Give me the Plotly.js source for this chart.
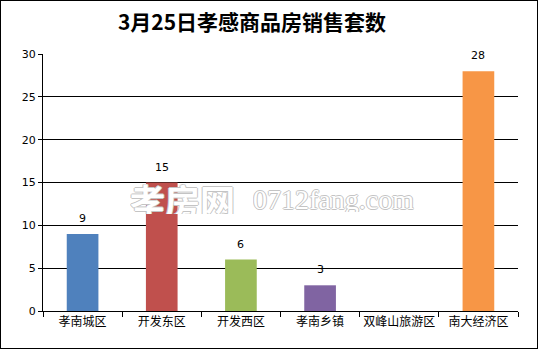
<!DOCTYPE html>
<html><head><meta charset="utf-8">
<script src="https://cdn.plot.ly/plotly-3.0.1.min.js"></script>
<style>
html,body{margin:0;padding:0;background:#fff;}
#wrap{width:538px;height:349px;border:1px solid #000;box-sizing:border-box;position:relative;}
#chart{position:absolute;left:0;top:0;width:536px;height:347px;}
</style></head>
<body><div id="wrap"><div id="chart"></div></div>
<script>
const categories = ['孝南城区','开发东区','开发西区','孝南乡镇','双峰山旅游区','南大经济区'];
const values = [9, 15, 6, 3, null, 28];
const barColors = ['#4F81BD','#C0504D','#9BBB59','#8064A2','#4BACC6','#F79646'];
const yTicks = [0,5,10,15,20,25,30];
const titleText = '3月25日孝感商品房销售套数';

const trace = {
  type:'bar', x:categories, y:values,
  marker:{color:barColors},
  hoverinfo:'none'
};
const outline = '1px 0 0 #c4c4c4, -1px 0 0 #c4c4c4, 0 1px 0 #c4c4c4, 0 -1px 0 #c4c4c4';
const labelAnns = [];
categories.forEach((c,i) => {
  if (values[i] != null) labelAnns.push({x:c, y:values[i], xref:'x', yref:'y', text:String(values[i]),
    showarrow:false, yanchor:'bottom', yshift:7,
    font:{family:'DejaVu Sans, Arial', size:11, color:'#000'}});
});
const layout = {
  width:536, height:347,
  margin:{l:42, r:19, t:53, b:37},
  paper_bgcolor:'#fff', plot_bgcolor:'#fff',
  bargap:0.6, showlegend:false,
  xaxis:{type:'category', showline:true, linecolor:'#000', linewidth:1,
    ticks:'outside', tickson:'boundaries', ticklen:5, tickcolor:'#000', tickangle:0,
    tickfont:{family:'Noto Sans CJK SC', size:12, color:'#000'},
    showgrid:false, fixedrange:true, automargin:false},
  yaxis:{range:[0,30], tickvals:yTicks, ticks:'outside', ticklen:4, tickcolor:'#000',
    showline:true, linecolor:'#000', linewidth:1,
    showgrid:true, gridcolor:'#000', gridwidth:1, zeroline:false,
    tickfont:{family:'DejaVu Sans, Arial', size:11, color:'#000'}, fixedrange:true},
  title:{text:titleText, x:251/536, xanchor:'center', y:1-22/347, yanchor:'middle',
    font:{family:'Noto Sans CJK SC', size:21, color:'#000', weight:'bold'}},
  annotations:[
    {text:'孝房网', xref:'paper', yref:'paper', x:(127-42)/475, y:(311-199)/258, xanchor:'left', yanchor:'middle',
     height:30, showarrow:false, font:{family:'Noto Sans CJK SC', size:35, color:'#ffffff', shadow:outline, weight:'bold'}},
    {text:'0712fang.com', xref:'paper', yref:'paper', x:(250-42)/475, y:(311-199)/258, xanchor:'left', yanchor:'middle',
     height:26, showarrow:false, font:{family:'Liberation Serif', size:28, color:'#ffffff', shadow:outline}}
  ].concat(labelAnns)
};
Plotly.newPlot('chart',[trace],layout,{displayModeBar:false,staticPlot:true});
</script></body></html>
